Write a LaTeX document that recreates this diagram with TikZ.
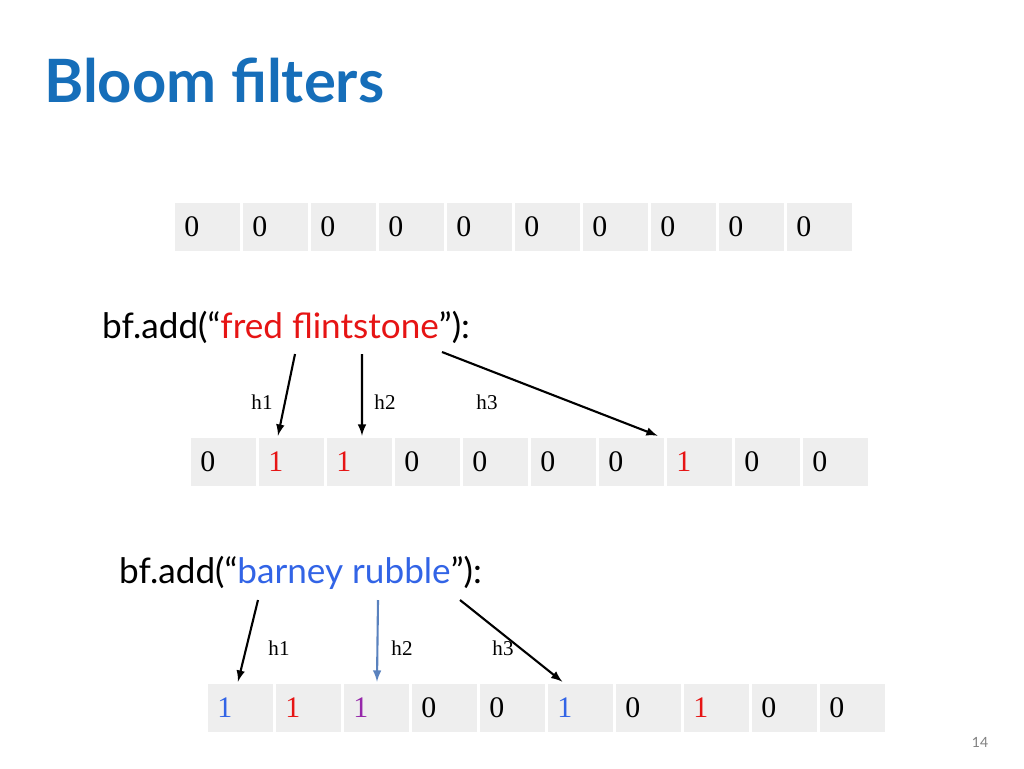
\documentclass[tikz,border=0pt]{standalone}
\usepackage{fontspec}
\setmainfont{Liberation Serif}
\newfontfamily\gill{Lato}
\usetikzlibrary{positioning}
\definecolor{titleblue}{RGB}{22,110,185}
\definecolor{cellgray}{RGB}{238,238,238}
\definecolor{bitred}{RGB}{230,20,20}
\definecolor{bitblue}{RGB}{50,100,230}
\definecolor{bitpurple}{RGB}{150,40,170}
\definecolor{arrowblue}{RGB}{90,130,190}
\tikzset{
  bitcell/.style={fill=cellgray, draw=white, line width=1.5pt, minimum width=1.36cm, minimum height=1cm, inner sep=0pt, font=\fontsize{17}{17}\selectfont},
  hlabel/.style={font=\fontsize{12}{12}\selectfont},
  hasharrow/.style={-latex, line width=1.2pt},
}
% one row of bits: name, left x, centre y, list of colour/bit
\newcommand{\bitrow}[4]{
  \foreach \c/\b [count=\i from 0] in {#4}
    \node[bitcell, anchor=west, text=\c] (#1\i) at ({#2+\i*68}, #3) {\makebox[1.36cm][l]{\hspace{0.22cm}\b}};
}
\begin{document}
\begin{tikzpicture}[x=0.02cm, y=-0.02cm]
\useasboundingbox (0,0) rectangle (1024,768);
% title
\node[anchor=west, text=titleblue, font=\gill\bfseries\fontsize{34}{34}\selectfont] (title) at (38,80) {Bloom filters};
% empty filter
\bitrow{a}{172}{227}{black/0,black/0,black/0,black/0,black/0,black/0,black/0,black/0,black/0,black/0}
% first add
\node[anchor=west, font=\gill\fontsize{20}{20}\selectfont] (addfred) at (96,327) {bf.add(“\textcolor{bitred}{fred flintstone}”):};
\bitrow{b}{188}{462}{black/0,bitred/1,bitred/1,black/0,black/0,black/0,black/0,bitred/1,black/0,black/0}
\node[hlabel] (b1h) at (262,402) {h1};
\node[hlabel] (b2h) at (385,402) {h2};
\node[hlabel] (b3h) at (487,402) {h3};
\coordinate (f1) at (295,354);
\coordinate (f2) at (362,354);
\coordinate (f3) at (442,352);
\draw[hasharrow] (f1) -- ([xshift=0.44cm]b1.north west);
\draw[hasharrow] (f2) -- ([xshift=0.76cm]b2.north west);
\draw[hasharrow] (f3) -- ([xshift=-0.18cm]b6.north east);
% second add
\node[anchor=west, font=\gill\fontsize{20}{20}\selectfont] (addbarney) at (113,573) {bf.add(“\textcolor{bitblue}{barney rubble}”):};
\bitrow{c}{205}{708}{bitblue/1,bitred/1,bitpurple/1,black/0,black/0,bitblue/1,black/0,bitred/1,black/0,black/0}
\node[hlabel] (c1h) at (279,648) {h1};
\node[hlabel] (c2h) at (402,648) {h2};
\node[hlabel] (c3h) at (503,648) {h3};
\coordinate (r1) at (258,600);
\coordinate (r2) at (378,600);
\coordinate (r3) at (460,600);
\draw[hasharrow] (r1) -- ([xshift=0.66cm]c0.north west);
\draw[hasharrow, arrowblue] (r2) -- ([xshift=0.72cm]c2.north west);
\draw[hasharrow] (r3) -- ([xshift=-0.36cm]c5.north);
% page number
\node[text=gray, font=\gill\fontsize{8}{8}\selectfont] (page) at (980,742) {14};
\end{tikzpicture}
\end{document}
